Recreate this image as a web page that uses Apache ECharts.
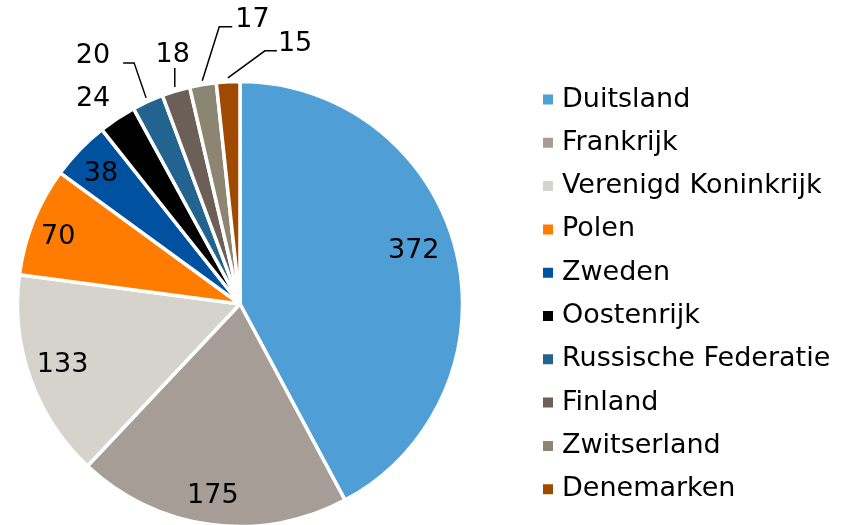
<!DOCTYPE html>
<html>
<head>
<meta charset="utf-8">
<script src="https://cdn.jsdelivr.net/npm/echarts@6/dist/echarts.min.js"></script>
<style>
  html, body { margin: 0; padding: 0; background: #ffffff; }
  #chart { width: 844px; height: 525px; }
</style>
</head>
<body>
<div id="chart"></div>
<script>
const categories = ['Duitsland', 'Frankrijk', 'Verenigd Koninkrijk', 'Polen', 'Zweden', 'Oostenrijk', 'Russische Federatie', 'Finland', 'Zwitserland', 'Denemarken'];
const values = [372, 175, 133, 70, 38, 24, 20, 18, 17, 15];
const colors = ['#4f9fd6', '#a59d96', '#d6d3cc', '#ff7c00', '#0052a0', '#000000', '#22638f', '#6b5f58', '#8c8572', '#a04a00'];
const insideLabelCount = 5;

const FONT = 'DejaVu Sans';
const FS = 27;
const CX = 240, CY = 304, R = 222.5;

// Leader-line geometry for the small outside labels (offsets from the slice edge point)
const smallLabelGeometry = {
  5: { line: null, label: [-22, -16], align: 'center' },
  6: { line: [[-12, -35], [-23, -35]], label: [-36, -42], align: 'right' },
  7: { line: [[0, -19], [0, -19]], label: [-2, -32], align: 'center' },
  8: { line: [[17, -54], [30, -54]], label: [33, -61], align: 'left' },
  9: { line: [[37, -27], [49, -27]], label: [50, -34], align: 'left' }
};
// Fine nudges of the inside labels (best-fit placement)
const insideLabelNudge = {
  0: [-12, -6], 1: [-2, 2], 2: [3, -3], 3: [-4, 4], 4: [-1, 3]
};

const total = values.reduce((a, b) => a + b, 0);
function edgePoint(i) {
  let before = 0;
  for (let k = 0; k < i; k++) before += values[k];
  const mid = (before + values[i] / 2) / total * 2 * Math.PI; // clockwise from top
  const r = R + 4;
  return [CX + r * Math.sin(mid), CY - r * Math.cos(mid)];
}

const mainData = categories.map((name, i) => {
  const inside = i < insideLabelCount;
  const d = { name, value: values[i], itemStyle: { color: colors[i] } };
  if (inside) {
    d.label = { show: false };
    d.labelLine = { show: false };
  } else {
    d.label = { show: true };
    d.labelLine = { show: i !== 5 };
  }
  return d;
});

const labelData = categories.map((name, i) => ({
  name, value: values[i],
  label: { show: i < insideLabelCount }
}));

const chart = echarts.init(document.getElementById('chart'), null, { renderer: 'canvas' });
chart.setOption({
  animation: false,
  backgroundColor: '#ffffff',
  color: colors,
  legend: {
    orient: 'vertical',
    left: 536,
    top: 81,
    itemWidth: 12,
    itemHeight: 12,
    itemGap: 16.3,
    icon: 'rect',
    data: categories,
    textStyle: { fontFamily: FONT, fontSize: FS, lineHeight: 27, color: '#000000', padding: [0, 0, 0, 3] }
  },
  series: [
    {
      type: 'pie',
      center: [CX, CY],
      radius: [0, R],
      startAngle: 90,
      clockwise: true,
      avoidLabelOverlap: false,
      itemStyle: { borderColor: '#ffffff', borderWidth: 3.5 },
      label: { position: 'outside', fontFamily: FONT, fontSize: FS, color: '#000000', formatter: '{c}' },
      labelLine: { length: 16, length2: 10, lineStyle: { color: '#000000', width: 1.5 } },
      labelLayout: function (params) {
        const g = smallLabelGeometry[params.dataIndex];
        if (!g) return {};
        const p = edgePoint(params.dataIndex);
        const res = {
          x: p[0] + g.label[0],
          y: p[1] + g.label[1],
          align: g.align,
          verticalAlign: 'middle',
          hideOverlap: false,
          moveOverlap: null
        };
        if (g.line) {
          res.labelLinePoints = [p, [p[0] + g.line[0][0], p[1] + g.line[0][1]], [p[0] + g.line[1][0], p[1] + g.line[1][1]]];
        }
        return res;
      },
      emphasis: { disabled: true },
      data: mainData
    },
    {
      type: 'pie',
      center: [CX, CY],
      radius: [0, 377],
      startAngle: 90,
      clockwise: true,
      silent: true,
      itemStyle: { color: 'rgba(0,0,0,0)', borderWidth: 0 },
      label: { position: 'inside', fontFamily: FONT, fontSize: FS, color: '#000000', formatter: '{c}' },
      labelLine: { show: false },
      labelLayout: function (params) {
        const n = insideLabelNudge[params.dataIndex];
        if (!n) return {};
        return { dx: n[0], dy: n[1] };
      },
      emphasis: { disabled: true },
      data: labelData
    }
  ]
});
</script>
</body>
</html>
